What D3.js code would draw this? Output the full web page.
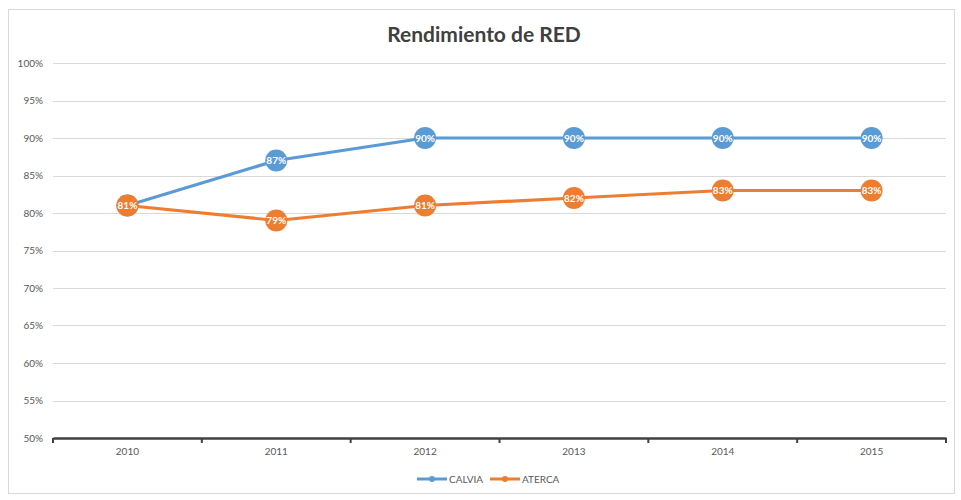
<!DOCTYPE html>
<html>
<head>
<meta charset="utf-8">
<script src="https://cdn.jsdelivr.net/npm/d3@7/dist/d3.min.js"></script>
<style>
  html, body { margin: 0; padding: 0; background: #ffffff; }
  svg { display: block; font-family: Lato, "Open Sans", "Liberation Sans", sans-serif; }
</style>
</head>
<body>
<svg id="chart" width="961" height="500"></svg>
<script>
const years = ["2010", "2011", "2012", "2013", "2014", "2015"];
const calvia = [81, 87, 90, 90, 90, 90];
const aterca = [81, 79, 81, 82, 83, 83];
const yTicks = [50, 55, 60, 65, 70, 75, 80, 85, 90, 95, 100];
const seriesNames = ["CALVIA", "ATERCA"];
const seriesColors = ["#5b9bd5", "#ed7d31"];

const svg = d3.select("#chart");
const plot = { left: 53, right: 946, top: 63, bottom: 438 };

// Outer chart frame
svg.append("rect")
  .attr("x", 8.5).attr("y", 9.5).attr("width", 946).attr("height", 484)
  .attr("fill", "#fff").attr("stroke", "#d9d9d9").attr("stroke-width", 1);

// Title
svg.append("text")
  .attr("x", 484).attr("y", 42)
  .attr("text-anchor", "middle")
  .attr("font-size", 21).attr("font-weight", 700).attr("fill", "#404040")
  .text("Rendimiento de RED");

const x = d3.scaleBand().domain(years).range([plot.left, plot.right]);
const y = d3.scaleLinear().domain([50, 100]).range([plot.bottom, plot.top]);

// Horizontal gridlines
svg.append("g").selectAll("line")
  .data(yTicks.filter(t => t > 50))
  .join("line")
  .attr("x1", plot.left).attr("x2", plot.right)
  .attr("y1", d => Math.round(y(d)) + 0.5).attr("y2", d => Math.round(y(d)) + 0.5)
  .attr("stroke", "#d9d9d9").attr("stroke-width", 1);

// Y axis labels
const yAxis = d3.axisLeft(y).tickValues(yTicks).tickFormat(d => d + "%").tickSize(0).tickPadding(10);
const gy = svg.append("g").attr("transform", `translate(${plot.left},0)`).call(yAxis);
gy.select(".domain").remove();
gy.selectAll("text").attr("font-size", 10).attr("fill", "#595959")
  .attr("font-family", "Lato, 'Open Sans', sans-serif");

// X axis with ticks at category boundaries
const gx = svg.append("g").attr("transform", `translate(0,${plot.bottom})`)
  .call(d3.axisBottom(x).tickSize(0).tickPadding(10));
gx.select(".domain").attr("stroke", "#404040").attr("stroke-width", 2.5);
gx.selectAll("text").attr("font-size", 10).attr("fill", "#595959")
  .attr("font-family", "Lato, 'Open Sans', sans-serif");
const bounds = years.map(d => x(d)).concat([x(years[years.length - 1]) + x.bandwidth()]);
gx.append("g").selectAll("line").data(bounds).join("line")
  .attr("x1", d => d).attr("x2", d => d)
  .attr("y1", 0).attr("y2", 5)
  .attr("stroke", "#404040").attr("stroke-width", 2);

const cx = d => x(d) + x.bandwidth() / 2;
const line = d3.line().x((d, i) => cx(years[i])).y(d => y(d));

const allSeries = [calvia, aterca];
allSeries.forEach((vals, si) => {
  const g = svg.append("g");
  g.append("path").datum(vals)
    .attr("d", line).attr("fill", "none")
    .attr("stroke", seriesColors[si]).attr("stroke-width", 3.2)
    .attr("stroke-linejoin", "round");
  const pts = g.selectAll("g.pt").data(vals).join("g")
    .attr("transform", (d, i) => `translate(${cx(years[i])},${y(d)})`);
  pts.append("circle").attr("r", 11).attr("fill", seriesColors[si]);
  pts.append("text")
    .attr("text-anchor", "middle").attr("dy", "0.35em")
    .attr("font-size", 10).attr("font-weight", 700).attr("fill", "#ffffff")
    .text(d => d + "%");
});

// Legend
const legendItems = [{ x: 417, tx: 449 }, { x: 490, tx: 522 }];
legendItems.forEach((it, i) => {
  const g = svg.append("g").attr("transform", `translate(${it.x},479)`);
  g.append("line").attr("x1", 0).attr("x2", 30).attr("y1", 0).attr("y2", 0)
    .attr("stroke", seriesColors[i]).attr("stroke-width", 3);
  g.append("circle").attr("cx", 15).attr("cy", 0).attr("r", 3).attr("fill", seriesColors[i]);
  g.append("text").attr("x", it.tx - it.x).attr("y", 0).attr("dy", "0.35em")
    .attr("font-size", 10).attr("fill", "#595959").text(seriesNames[i]);
});
</script>
</body>
</html>
